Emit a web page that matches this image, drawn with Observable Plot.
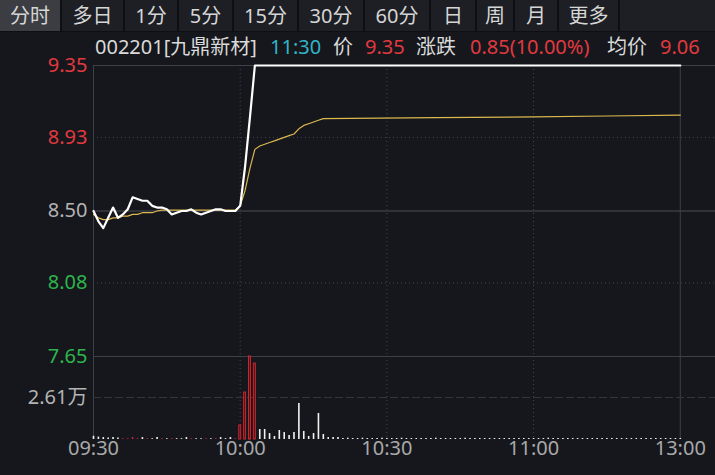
<!DOCTYPE html>
<html><head><meta charset="utf-8">
<script src="https://cdn.jsdelivr.net/npm/d3@7"></script>
<script src="https://cdn.jsdelivr.net/npm/@observablehq/plot@0.6"></script>
<style>
html,body{margin:0;padding:0;}
body{background:#15171c;width:715px;height:475px;overflow:hidden;position:relative;font-family:"Noto Sans","Noto Sans CJK SC",sans-serif;}
#tabs{position:absolute;left:0;top:0;width:715px;height:32px;background:#0e0f12;}
.tab{position:absolute;top:0;height:31px;background:#1d1f24;color:#d6d6d6;font-size:20px;line-height:31px;text-align:center;}
.tab.active{background:#3b3d43;}
#tabs .rest{position:absolute;top:0;height:31px;background:#1d1f24;}
.hd{position:absolute;top:34px;font-size:20px;line-height:26px;white-space:nowrap;}
svg{position:absolute;left:0;}
</style>
</head><body>
<div id="tabs"></div>
<div id="header"></div>
<div id="chart"></div>
<script>
// ---------- data ----------
const tabLabels = ["分时","多日","1分","5分","15分","30分","60分","日","周","月","更多"];
const stockCode = "002201[九鼎新材]";
const quoteTime = "11:30";
const lastPrice = "9.35";
const change = "0.85(10.00%)";
const avgPriceNow = "9.06";
const prevClose = 8.50;

const yTicks = [9.35, 8.93, 8.50, 8.08, 7.65];
const xTickMinutes = [0, 30, 60, 90, 120];
const xTickLabels = ["09:30", "10:00", "10:30", "11:00", "13:00"];
const volTick = 2.61;
const volTickUnit = "万";
const volMax = 5.16;

// minute index from 09:30 (120 = 11:30/13:00)
const priceMinutes = [0,1,2,3,4,5,6,7,8,9,10,11,12,13,14,15,16,17,18,19,20,21,22,23,24,25,26,27,28,29,30,31,32,33,120];
const priceValues  = [8.50,8.44,8.40,8.46,8.52,8.46,8.48,8.51,8.58,8.57,8.56,8.56,8.53,8.52,8.52,8.51,8.48,8.49,8.50,8.50,8.51,8.49,8.48,8.49,8.50,8.51,8.51,8.50,8.50,8.50,8.53,8.76,9.05,9.35,9.35];

const avgMinutes = [0,1,2,3,4,5,6,7,8,9,10,11,12,13,14,15,16,17,18,19,20,21,22,23,24,25,26,27,28,29,30,31,32,33,34,35,36,37,38,39,40,41,42,43,44,45,46,47,70,90,105,120];
const avgValues  = [8.48,8.46,8.45,8.45,8.46,8.46,8.47,8.47,8.48,8.48,8.49,8.49,8.49,8.50,8.505,8.505,8.505,8.505,8.505,8.505,8.505,8.505,8.505,8.505,8.505,8.505,8.505,8.505,8.505,8.505,8.53,8.62,8.75,8.86,8.88,8.89,8.90,8.91,8.92,8.93,8.94,8.95,8.98,9.00,9.01,9.02,9.03,9.04,9.045,9.05,9.055,9.06];

// volume (万) per minute, t = 0..120
const volumes = [
  0.20,0.15,0.12,0.10,0.12,0.10,0.05,0.05,0.12,0.05,
  0.12,0.05,0.05,0.12,0.05,0.05,0.05,0.05,0.05,0.12,
  0.05,0.05,0.05,0.05,0.05,0.05,0.12,0.05,0.12,0.05,
  0.87,2.92,5.16,4.72,0.62,0.62,0.37,0.19,0.56,0.43,
  0.25,0.43,2.24,0.50,0.19,0.37,1.62,0.31,0.12,0.12,
  0.12,0.06,0.08,0.06,0.06,0.08,0.06,0.06,0.06,0.08,
  0.06,0.06,0.06,0.08,0.06,0.06,0.06,0.06,0.06,0.06,
  0.08,0.06,0.06,0.06,0.06,0.06,0.08,0.06,0.06,0.06,
  0.06,0.06,0.06,0.06,0.06,0.06,0.06,0.06,0.06,0.06,
  0.06,0.06,0.06,0.08,0.06,0.06,0.06,0.06,0.06,0.06,
  0.06,0.06,0.06,0.06,0.06,0.06,0.06,0.06,0.06,0.06,
  0.06,0.06,0.06,0.06,0.06,0.06,0.06,0.06,0.06,0.06,
  0.06
];
// u = up minute (red), f = flat/down (white)
const volDirection = [
  "f","f","f","f","f","f","u","u","u","u",
  "f","u","f","f","u","f","u","f","f","f",
  "u","f","f","u","f","u","f","f","f","u",
  "u","u","u","u"
];

// ---------- page chrome ----------
const tabEdges = [[0,60],[62,123],[125,177],[179,232],[234,297],[299,363],[365,429],[431,475],[477,513],[515,557],[559,618]];
const tabsDiv = document.getElementById("tabs");
tabLabels.forEach((lab, i) => {
  const d = document.createElement("div");
  d.className = "tab" + (i === 0 ? " active" : "");
  d.style.left = tabEdges[i][0] + "px";
  d.style.width = (tabEdges[i][1] - tabEdges[i][0]) + "px";
  d.textContent = lab;
  tabsDiv.appendChild(d);
});
const rest = document.createElement("div");
rest.className = "rest"; rest.style.left = "620px"; rest.style.width = "95px";
tabsDiv.appendChild(rest);

const RED = "#e2393f", GREEN = "#2db54c", GRAY = "#b3b3b3", WHITE = "#dadada", CYAN = "#33b5c6";
const header = document.getElementById("header");
[[95, stockCode, WHITE],[270, quoteTime, CYAN],[333, "价", WHITE],[365, lastPrice, RED],
 [416, "涨跌", WHITE],[470, change, RED],[607, "均价", WHITE],[660, avgPriceNow, RED]]
.forEach(([x, t, c]) => {
  const s = document.createElement("span");
  s.className = "hd"; s.style.left = x + "px"; s.style.color = c; s.textContent = t;
  header.appendChild(s);
});

// ---------- charts ----------
const tickColor = v => v > prevClose ? RED : v < prevClose ? GREEN : GRAY;
const priceData = priceMinutes.map((t, i) => ({t, p: priceValues[i]}));
const avgData = avgMinutes.map((t, i) => ({t, p: avgValues[i]}));
const volData = volumes.map((v, t) => ({t, v, dir: volDirection[t] || "f"}));
const xDomain = [0, 127.2];
const gridCol = "#3d4047";
const fontFam = "Noto Sans";

const pricePlot = Plot.plot({
  width: 715, height: 320,
  marginLeft: 93, marginRight: 0, marginTop: 8, marginBottom: 21,
  x: {domain: xDomain, axis: null},
  y: {domain: [7.65, 9.35], axis: null},
  style: {background: "transparent", overflow: "visible", fontFamily: fontFam},
  marks: [
    Plot.ruleY([9.35, 7.65], {stroke: gridCol, strokeWidth: 1}),
    Plot.ruleY([8.50], {stroke: "#4c4f57", strokeWidth: 1}),
    Plot.ruleY([8.93, 8.08], {stroke: "#44474f", strokeDasharray: "1,3"}),
    Plot.ruleX([30, 60, 90], {stroke: "#44474f", strokeDasharray: "1,3"}),
    Plot.ruleX([0, 120], {stroke: gridCol}),
    Plot.text(yTicks, {y: d => d, text: d => d.toFixed(2), frameAnchor: "left", dx: -6,
      textAnchor: "end", fill: d => tickColor(d), fontSize: 20, fontFamily: "Noto Sans"}),
    Plot.line(avgData, {x: "t", y: "p", stroke: "#dcb84e", strokeWidth: 1.2}),
    Plot.line(priceData, {x: "t", y: "p", stroke: "#ffffff", strokeWidth: 2.2})
  ]
});
pricePlot.style.top = "57px";

const volPlot = Plot.plot({
  width: 715, height: 135,
  marginLeft: 93, marginRight: 0, marginTop: 16, marginBottom: 36,
  x: {domain: xDomain, axis: null},
  y: {domain: [0, volMax], axis: null},
  style: {background: "transparent", overflow: "visible", fontFamily: fontFam},
  marks: [
    Plot.ruleX([30, 60, 90], {stroke: "#44474f", strokeDasharray: "1,3"}),
    Plot.ruleX([0, 120], {stroke: gridCol}),
    Plot.ruleY([volTick], {stroke: "#34373e", strokeDasharray: "8,3"}),
    Plot.text([volTick], {y: d => d, text: d => d.toFixed(2), frameAnchor: "left", dx: -26,
      textAnchor: "end", fill: GRAY, fontSize: 20, fontFamily: "Noto Sans"}),
    Plot.text([volTick], {y: d => d, text: () => volTickUnit, frameAnchor: "left", dx: -6,
      textAnchor: "end", fill: GRAY, fontSize: 20, fontFamily: "Noto Sans CJK SC"}),
    Plot.ruleX(volData.filter(d => d.dir === "f"), {x: "t", y1: 0, y2: "v", stroke: "#f2f2f2", strokeWidth: 1.6}),
    Plot.ruleX(volData.filter(d => d.dir === "u" && d.v < 0.5), {x: "t", y1: 0, y2: "v", stroke: "#c8262e", strokeWidth: 1.6}),
    Plot.rectY(volData.filter(d => d.dir === "u" && d.v >= 0.5), {x1: d => d.t - 0.2, x2: d => d.t + 0.2, y1: 0, y2: "v",
      fill: "#4e1418", stroke: "#c8262e", strokeWidth: 1}),
    Plot.text(xTickMinutes, {x: d => d, text: (d, i) => xTickLabels[i], frameAnchor: "bottom", dy: 15,
      fill: "#a9a9a9", fontSize: 20, fontFamily: "Noto Sans"})
  ]
});
volPlot.style.top = "340px";

const chart = document.getElementById("chart");
chart.appendChild(pricePlot);
chart.appendChild(volPlot);
</script>
</body></html>
